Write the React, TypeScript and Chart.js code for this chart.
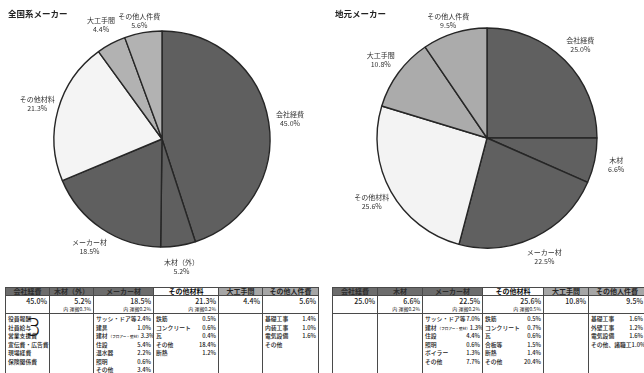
import React, { useEffect, useRef } from 'react';
import { Chart, registerables } from 'chart.js';

Chart.register(...registerables);

// ---------- pie data ----------
const NATIONAL_TITLE = '全国系メーカー';
const NATIONAL_CATEGORIES = ['会社経費', '木材（外）', 'メーカー材', 'その他材料', '大工手間', 'その他人件費'];
const NATIONAL_VALUES = [45.0, 5.2, 18.5, 21.3, 4.4, 5.6];

const LOCAL_TITLE = '地元メーカー';
const LOCAL_CATEGORIES = ['会社経費', '木材', 'メーカー材', 'その他材料', '大工手間', 'その他人件費'];
const LOCAL_VALUES = [25.0, 6.6, 22.5, 25.6, 10.8, 9.5];

// ---------- table data ----------
const NATIONAL_NOTES = ['', '内 運搬0.3%', '内 運搬0.2%', '内 運搬0.2%', '', ''];
const NATIONAL_COMPANY_ITEMS = ['役員報酬', '社員給与', '営業支援費', '宣伝費・広告費', '現場経費', '保険関係費'];
const NATIONAL_MAKER_ITEMS = ['サッシ・ドア等', '建具', '建材（フロアー・壁材）', '住設', '温水器', '照明', 'その他'];
const NATIONAL_MAKER_SHARES = ['2.4%', '1.0%', '3.3%', '5.4%', '2.2%', '0.6%', '3.4%'];
const NATIONAL_OTHER_ITEMS = ['鉄筋', 'コンクリート', '瓦', 'その他', '断熱'];
const NATIONAL_OTHER_SHARES = ['0.5%', '0.6%', '0.4%', '18.4%', '1.2%'];
const NATIONAL_LABOR_ITEMS = ['基礎工事', '内装工事', '電気設備', 'その他'];
const NATIONAL_LABOR_SHARES = ['1.4%', '1.0%', '1.6%', ''];

const LOCAL_NOTES = ['', '内 運搬0.2%', '内 運搬0.2%', '内 運搬0.5%', '', ''];
const LOCAL_MAKER_ITEMS = ['サッシ・ドア等', '建材（フロアー・壁材）', '住設', '照明', 'ボイラー', 'その他'];
const LOCAL_MAKER_SHARES = ['7.0%', '1.3%', '4.4%', '0.6%', '1.3%', '7.7%'];
const LOCAL_OTHER_ITEMS = ['鉄筋', 'コンクリート', '瓦', '合板等', '断熱', 'その他'];
const LOCAL_OTHER_SHARES = ['0.5%', '0.7%', '0.6%', '1.5%', '1.4%', '20.4%'];
const LOCAL_LABOR_ITEMS = ['基礎工事', '外壁工事', '電気設備', 'その他、諸職工'];
const LOCAL_LABOR_SHARES = ['1.6%', '1.2%', '1.6%', '1.0%'];

// ---------- styles ----------
const FONT = '"Noto Sans CJK JP", "Noto Sans", sans-serif';
const NATIONAL_SLICE_COLORS = ['#5f5f5f', '#5f5f5f', '#5f5f5f', '#f4f4f4', '#b2b2b2', '#b2b2b2'];
const LOCAL_SLICE_COLORS = ['#606060', '#606060', '#606060', '#f3f3f3', '#ababab', '#ababab'];
const HEADER_FILLS = ['#6c6c6c', '#6c6c6c', '#6c6c6c', '#ffffff', '#a6a6a6', '#a6a6a6'];
const HEADER_INKS = ['#2e2e2e', '#2e2e2e', '#2e2e2e', '#111111', '#262626', '#262626'];

const sliceLabelPlugin = {
  id: 'sliceLabels',
  afterDatasetsDraw(chart: any) {
    const ctx = chart.ctx;
    const meta = chart.getDatasetMeta(0);
    const labels = chart.data.labels;
    const values = chart.data.datasets[0].data;
    ctx.save();
    ctx.fillStyle = '#333333';
    ctx.font = `7px ${FONT}`;
    ctx.textAlign = 'center';
    ctx.textBaseline = 'middle';
    meta.data.forEach((arc: any, i: number) => {
      const p = arc.getProps(['x', 'y', 'startAngle', 'endAngle', 'outerRadius'], true);
      const mid = (p.startAngle + p.endAngle) / 2;
      const r = p.outerRadius * 1.2;
      const lx = p.x + Math.cos(mid) * r;
      let ly = p.y + Math.sin(mid) * r;
      if (ly < 20.5) ly = 20.5;
      ctx.fillText(String(labels[i]), lx, ly - 4.5);
      ctx.fillText(Number(values[i]).toFixed(1) + '%', lx, ly + 4.5);
    });
    ctx.restore();
  },
};

function PieChart(props: {
  labels: string[];
  values: number[];
  colors: string[];
  radius: number;
  padLeft: number;
  padTop: number;
  padBottom: number;
}) {
  const ref = useRef<HTMLCanvasElement | null>(null);
  useEffect(() => {
    if (!ref.current) return;
    const chart = new Chart(ref.current, {
      type: 'pie',
      data: {
        labels: props.labels,
        datasets: [
          {
            data: props.values,
            backgroundColor: props.colors,
            borderColor: '#262626',
            borderWidth: 1.4,
          },
        ],
      },
      options: {
        responsive: false,
        animation: false,
        radius: props.radius,
        layout: { padding: { left: props.padLeft, right: 0, top: props.padTop, bottom: props.padBottom } },
        plugins: { legend: { display: false }, tooltip: { enabled: false }, title: { display: false } },
      } as any,
      plugins: [sliceLabelPlugin],
    });
    return () => chart.destroy();
  }, []);
  return <canvas ref={ref} width={322} height={282} style={{ display: 'block', width: 322, height: 282 }} />;
}

function ItemName({ text }: { text: string }) {
  const m = text.match(/^(.*?)(（.*）)$/);
  if (m) {
    return (
      <span>
        {m[1]}
        <span style={{ fontSize: 3.6, marginLeft: 1 }}>{m[2]}</span>
      </span>
    );
  }
  return <span>{text}</span>;
}

function DetailList({ items, shares }: { items: string[]; shares: string[] }) {
  return (
    <div>
      {items.map((it, i) => (
        <div
          key={i}
          style={{ display: 'flex', justifyContent: 'space-between', height: 8.5, lineHeight: '8.5px', whiteSpace: 'nowrap' }}
        >
          <ItemName text={it} />
          <span>{shares[i] || ''}</span>
        </div>
      ))}
    </div>
  );
}

function CostTable(props: {
  left: number;
  headers: string[];
  values: number[];
  notes: string[];
  widths: number[];
  details: { items: string[]; shares: string[] }[];
}) {
  const border = '1.6px solid #4a4a4a';
  const total = props.widths.reduce((a, b) => a + b, 0);
  return (
    <table
      style={{
        position: 'absolute',
        left: props.left,
        top: 287,
        width: total,
        borderCollapse: 'collapse',
        tableLayout: 'fixed',
        fontFamily: FONT,
        color: '#222',
        background: '#fff',
        border,
      }}
    >
      <colgroup>
        {props.widths.map((w, i) => (
          <col key={i} style={{ width: w }} />
        ))}
      </colgroup>
      <tbody>
        <tr style={{ height: 8 }}>
          {props.headers.map((h, i) => (
            <td
              key={i}
              style={{
                border,
                background: HEADER_FILLS[i],
                color: HEADER_INKS[i],
                fontSize: 7,
                fontWeight: 700,
                lineHeight: '7px',
                textAlign: 'center',
                padding: 0,
                height: 7,
                whiteSpace: 'nowrap',
                overflow: 'hidden',
              }}
            >
              {h}
            </td>
          ))}
        </tr>
        <tr style={{ height: 17 }}>
          {props.values.map((v, i) => (
            <td
              key={i}
              style={{ border, verticalAlign: 'top', textAlign: 'right', padding: '1px 2px 0 0', height: 16, overflow: 'hidden' }}
            >
              <div style={{ fontSize: 7, lineHeight: '8px', fontWeight: 500 }}>{v.toFixed(1)}%</div>
              <div style={{ fontSize: 5, lineHeight: '7px', whiteSpace: 'nowrap' }}>{props.notes[i]}</div>
            </td>
          ))}
        </tr>
        <tr style={{ height: 60 }}>
          {props.details.map((d, i) => (
            <td
              key={i}
              style={{
                border,
                verticalAlign: 'top',
                fontSize: 5.8,
                fontWeight: 500,
                color: '#1a1a1a',
                padding: '1px 2px 0 2px',
                height: 59,
                overflow: 'hidden',
              }}
            >
              <DetailList items={d.items} shares={d.shares} />
            </td>
          ))}
        </tr>
      </tbody>
    </table>
  );
}

export default function App() {
  const titleStyle: React.CSSProperties = {
    position: 'absolute',
    top: 7,
    fontFamily: FONT,
    fontSize: 8.5,
    fontWeight: 700,
    color: '#222',
    lineHeight: '12px',
    whiteSpace: 'nowrap',
  };
  return (
    <div style={{ position: 'relative', width: 644, height: 373, overflow: 'hidden', background: '#fff' }}>
      <style>{'body{margin:0}'}</style>
      <div style={{ position: 'absolute', left: 0, top: 0 }}>
        <PieChart
          labels={NATIONAL_CATEGORIES}
          values={NATIONAL_VALUES}
          colors={NATIONAL_SLICE_COLORS}
          radius={108}
          padLeft={2}
          padTop={16}
          padBottom={20}
        />
      </div>
      <div style={{ position: 'absolute', left: 322, top: 0 }}>
        <PieChart
          labels={LOCAL_CATEGORIES}
          values={LOCAL_VALUES}
          colors={LOCAL_SLICE_COLORS}
          radius={110}
          padLeft={8}
          padTop={14}
          padBottom={20}
        />
      </div>
      <div style={{ ...titleStyle, left: 8 }}>{NATIONAL_TITLE}</div>
      <div style={{ ...titleStyle, left: 335 }}>{LOCAL_TITLE}</div>

      <CostTable
        left={5}
        headers={NATIONAL_CATEGORIES}
        values={NATIONAL_VALUES}
        notes={NATIONAL_NOTES}
        widths={[44, 44, 60, 65, 44, 56]}
        details={[
          { items: NATIONAL_COMPANY_ITEMS, shares: [] },
          { items: [], shares: [] },
          { items: NATIONAL_MAKER_ITEMS, shares: NATIONAL_MAKER_SHARES },
          { items: NATIONAL_OTHER_ITEMS, shares: NATIONAL_OTHER_SHARES },
          { items: [], shares: [] },
          { items: NATIONAL_LABOR_ITEMS, shares: NATIONAL_LABOR_SHARES },
        ]}
      />
      <CostTable
        left={332}
        headers={LOCAL_CATEGORIES}
        values={LOCAL_VALUES}
        notes={LOCAL_NOTES}
        widths={[45, 45, 60, 61, 45, 57]}
        details={[
          { items: [], shares: [] },
          { items: [], shares: [] },
          { items: LOCAL_MAKER_ITEMS, shares: LOCAL_MAKER_SHARES },
          { items: LOCAL_OTHER_ITEMS, shares: LOCAL_OTHER_SHARES },
          { items: [], shares: [] },
          { items: LOCAL_LABOR_ITEMS, shares: LOCAL_LABOR_SHARES },
        ]}
      />
      <div
        style={{
          position: 'absolute',
          left: 26,
          top: 316,
          fontFamily: '"DejaVu Sans", sans-serif',
          fontSize: 24,
          fontWeight: 300,
          lineHeight: '24px',
          color: '#111',
        }}
      >
        3
      </div>
    </div>
  );
}
